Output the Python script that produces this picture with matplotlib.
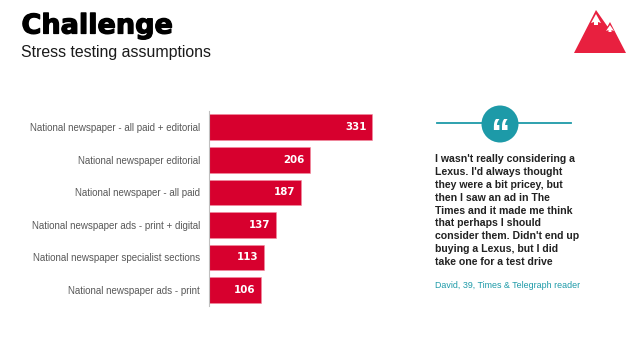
import matplotlib
matplotlib.use('Agg')
import matplotlib.pyplot as plt
import matplotlib.patheffects as pe
from matplotlib.patches import Polygon, Circle

categories = ['National newspaper - all paid + editorial',
              'National newspaper editorial',
              'National newspaper - all paid',
              'National newspaper ads - print + digital',
              'National newspaper specialist sections',
              'National newspaper ads - print']
values = [331, 206, 187, 137, 113, 106]

quote = ["I wasn't really considering a",
         "Lexus. I'd always thought",
         "they were a bit pricey, but",
         "then I saw an ad in The",
         "Times and it made me think",
         "that perhaps I should",
         "consider them. Didn't end up",
         "buying a Lexus, but I did",
         "take one for a test drive"]

W, H = 638, 359
plt.rcParams['font.family'] = ['Liberation Sans', 'DejaVu Sans']

fig = plt.figure(figsize=(W / 100, H / 100), dpi=100)

# page layer in pixels, for the title, the icon and the quote
bg = fig.add_axes([0, 0, 1, 1])
bg.set_xlim(0, W)
bg.set_ylim(H, 0)
bg.axis('off')

# chart
ax = fig.add_axes([208.5 / W, 1 - 306 / H, 429 / W, 195 / H])
y = list(range(len(values)))
ax.barh(y, values, height=0.79, color='#d7002e', edgecolor='#f28ca0', linewidth=0.4)
ax.set_xlim(0, 429 / 0.495)
ax.set_ylim(5.49, -0.5)
ax.set_yticks(y)
ax.set_yticklabels(categories, fontsize=7.05, color='#595959')
ax.tick_params(axis='y', length=0, pad=6)
ax.set_xticks([])
for s in ['top', 'right', 'bottom']:
    ax.spines[s].set_visible(False)
ax.spines['left'].set_color('#bfbfbf')
ax.spines['left'].set_linewidth(0.8)
ax.patch.set_alpha(0)
for i, v in enumerate(values):
    ax.text(v - 12, i, str(v), ha='right', va='center', color='white',
            fontsize=7.4, fontweight='bold', family='DejaVu Sans')

# title
bg.text(21.5, 26.5, 'Challenge', fontsize=19.5, fontweight='bold', color='black', va='center',
        family='DejaVu Sans',
        path_effects=[pe.withStroke(linewidth=0.9, foreground='black')])
bg.text(21, 52, 'Stress testing assumptions', fontsize=11.4, color='#1a1a1a', va='center')

# mountain icon
bg.add_patch(Polygon([(574, 53), (596, 10), (607.5, 26.5), (610, 22), (626, 53)],
                     closed=True, fc='#e8203f', ec='none'))
bg.add_patch(Polygon([(596, 14), (591, 23), (594, 22), (594, 25), (598, 25), (598, 22), (601, 23)],
                     closed=True, fc='white', ec='none'))
bg.add_patch(Polygon([(610, 25), (606, 31), (608.5, 30), (608.5, 32), (611.5, 32), (611.5, 30), (614, 31)],
                     closed=True, fc='white', ec='none'))

# quote mark and rule
teal = '#1d9aa8'
bg.plot([437, 571], [123, 123], color=teal, lw=1.3)
bg.add_patch(Circle((500, 124), 18.5, fc=teal, ec='none', zorder=3))
bg.text(500, 136, '\u201c', fontsize=28, fontweight='bold', color='white',
        ha='center', va='center', zorder=4)

# quote text
for i, line in enumerate(quote):
    bg.text(435, 159.5 + i * 12.8, line, fontsize=7.6, fontweight='bold',
            color='#222222', va='center')
bg.text(435, 286, 'David, 39, Times & Telegraph reader', fontsize=6.4, color=teal, va='center')

fig.savefig('out.png', dpi=100)
